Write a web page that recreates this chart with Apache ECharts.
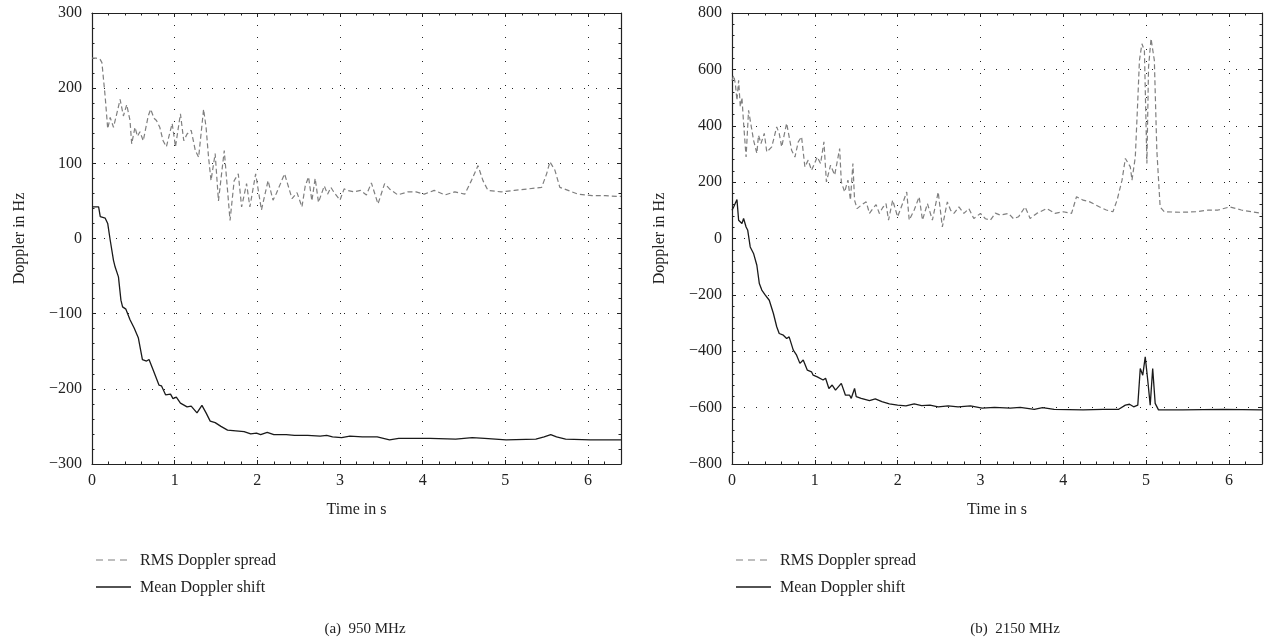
<!DOCTYPE html>
<html>
<head>
<meta charset="utf-8">
<script src="https://cdn.jsdelivr.net/npm/echarts@6/dist/echarts.min.js"></script>
<style>html,body{margin:0;padding:0;background:#fff}#c{width:1269px;height:641px}</style>
</head>
<body>
<div id="c"></div>
<script>
// ---- Data ----
const leftRmsT = [0,0.05,0.1,0.12,0.16,0.19,0.22,0.26,0.3,0.34,0.38,0.42,0.46,0.48,0.52,0.55,0.58,0.62,0.68,0.71,0.75,0.78,0.82,0.86,0.9,0.94,0.97,1.01,1.07,1.11,1.15,1.2,1.25,1.29,1.35,1.38,1.41,1.44,1.49,1.53,1.6,1.67,1.72,1.77,1.81,1.87,1.91,1.98,2.05,2.13,2.19,2.23,2.33,2.42,2.48,2.54,2.58,2.62,2.66,2.7,2.74,2.81,2.85,2.89,2.93,3.0,3.05,3.09,3.17,3.25,3.32,3.38,3.46,3.54,3.6,3.7,3.82,3.92,4.02,4.14,4.27,4.39,4.51,4.59,4.67,4.73,4.79,4.95,5.11,5.28,5.44,5.5,5.54,5.6,5.66,5.76,5.88,6.05,6.21,6.36,6.4];
const leftRmsV = [240,240,238,234,188,146,161,148,166,185,163,178,157,126,148,136,142,130,163,172,160,157,148,130,122,140,153,122,166,130,139,144,117,108,172,148,108,77,113,50,117,24,77,86,42,73,42,86,38,77,51,60,86,53,61,42,70,82,50,80,48,70,59,68,61,51,66,64,62,64,58,74,46,73,66,58,62,62,59,64,58,62,59,77,97,77,64,62,64,66,68,86,102,91,68,64,59,57,57,56,56];

const leftMeanT = [0,0.08,0.1,0.16,0.19,0.22,0.26,0.28,0.32,0.35,0.37,0.41,0.46,0.51,0.56,0.61,0.66,0.69,0.74,0.81,0.84,0.89,0.95,0.98,1.02,1.07,1.15,1.2,1.27,1.33,1.38,1.43,1.49,1.56,1.64,1.74,1.84,1.92,1.99,2.04,2.12,2.2,2.35,2.45,2.61,2.76,2.84,2.91,3.02,3.12,3.27,3.45,3.6,3.71,3.89,4.09,4.4,4.6,4.75,5.01,5.37,5.47,5.55,5.62,5.73,6.03,6.4];
const leftMeanV = [42,42,29,27,20,-2,-29,-38,-51,-82,-91,-94,-108,-119,-132,-161,-163,-161,-175,-195,-196,-208,-207,-213,-211,-219,-224,-223,-232,-222,-232,-243,-245,-250,-255,-256,-257,-260,-259,-261,-258,-261,-261,-262,-262,-263,-262,-264,-265,-263,-264,-264,-268,-266,-266,-266,-267,-265,-266,-268,-267,-264,-261,-264,-267,-268,-268];

const rightRmsT = [0,0.02,0.04,0.06,0.08,0.1,0.12,0.14,0.17,0.2,0.23,0.26,0.3,0.32,0.35,0.39,0.42,0.48,0.54,0.57,0.6,0.66,0.72,0.76,0.8,0.84,0.88,0.92,0.96,1.03,1.07,1.11,1.14,1.19,1.24,1.3,1.32,1.36,1.4,1.43,1.46,1.48,1.51,1.56,1.62,1.66,1.7,1.74,1.78,1.82,1.86,1.89,1.94,2.0,2.06,2.11,2.14,2.2,2.26,2.3,2.36,2.42,2.49,2.54,2.6,2.64,2.68,2.74,2.8,2.86,2.92,3.0,3.06,3.12,3.18,3.24,3.34,3.4,3.46,3.54,3.6,3.68,3.8,3.9,4.0,4.1,4.16,4.24,4.32,4.44,4.52,4.6,4.65,4.71,4.75,4.81,4.83,4.87,4.9,4.92,4.95,4.98,5.01,5.03,5.06,5.1,5.13,5.17,5.22,5.42,5.62,5.75,5.87,6.01,6.09,6.15,6.27,6.4];
const rightRmsV = [560,579,550,490,561,467,500,409,289,455,402,349,302,366,337,373,307,325,396,373,325,409,313,289,343,361,254,278,242,289,266,343,201,260,225,319,201,165,207,136,266,136,106,118,130,89,106,120,89,110,124,65,136,77,124,165,65,101,148,65,124,65,165,41,130,100,89,112,89,106,71,89,70,65,90,83,89,70,77,112,71,89,106,89,95,89,148,136,130,112,101,95,136,207,284,254,207,289,490,632,691,667,266,608,709,632,313,112,95,93,95,101,101,112,106,101,95,89];

const rightMeanT = [0,0.02,0.06,0.08,0.12,0.14,0.17,0.19,0.22,0.26,0.3,0.33,0.36,0.4,0.45,0.5,0.54,0.57,0.62,0.66,0.69,0.74,0.78,0.82,0.86,0.91,0.96,0.98,1.03,1.1,1.13,1.17,1.21,1.25,1.32,1.37,1.42,1.44,1.48,1.5,1.56,1.66,1.73,1.81,1.9,2.0,2.1,2.2,2.29,2.39,2.49,2.61,2.73,2.88,3.02,3.17,3.36,3.48,3.65,3.75,3.89,4.24,4.48,4.67,4.75,4.8,4.85,4.9,4.93,4.96,4.99,5.02,5.05,5.08,5.11,5.15,5.44,5.93,6.4];
const rightMeanV = [100,112,138,65,53,71,41,29,-30,-53,-95,-160,-183,-200,-219,-266,-313,-337,-343,-355,-349,-396,-414,-443,-431,-467,-473,-485,-491,-502,-496,-532,-520,-538,-514,-556,-556,-567,-532,-561,-567,-575,-569,-579,-587,-591,-594,-587,-593,-591,-597,-594,-597,-594,-602,-599,-602,-599,-606,-600,-606,-608,-606,-606,-591,-588,-597,-591,-461,-485,-420,-502,-591,-461,-585,-608,-608,-606,-608];

const xTicksMax = 6.4;
const seriesNames = ['RMS Doppler spread', 'Mean Doppler shift'];
const captions = ['(a)  950 MHz', '(b)  2150 MHz'];

// ---- Helpers ----
const zip = (t, v) => t.map((x, i) => [x, v[i]]);
const FONT = 'Liberation Serif';
const txt = { fontFamily: FONT, fontSize: 16, color: '#222' };
const RMS_COLOR = '#7f7f7f', MEAN_COLOR = '#1a1a1a', RMS_DASH = [5, 3];

function xAxes(gi) {
  const base = {
    type: 'value', gridIndex: gi, min: 0, max: xTicksMax, interval: 1,
    axisLine: { show: true, onZero: false, lineStyle: { color: '#222', width: 1.2 } },
    axisTick: { show: true, inside: true, length: 4, lineStyle: { color: '#222' } },
    minorTick: { show: true, splitNumber: 5, length: 2.5, lineStyle: { color: '#222' } },
  };
  return [
    Object.assign({}, base, {
      position: 'bottom',
      name: 'Time in s', nameLocation: 'middle', nameGap: 38,
      nameTextStyle: Object.assign({}, txt),
      axisLabel: Object.assign({ margin: 9, showMaxLabel: false }, txt),
      splitLine: { show: true, lineStyle: { color: '#222', type: [1, 11], width: 1 } },
    }),
    Object.assign({}, base, {
      position: 'top', axisLabel: { show: false }, splitLine: { show: false },
    }),
  ];
}
function yAxes(gi, min, max, interval) {
  const base = {
    type: 'value', gridIndex: gi, min, max, interval,
    axisLine: { show: true, onZero: false, lineStyle: { color: '#222', width: 1.2 } },
    axisTick: { show: true, inside: true, length: 4, lineStyle: { color: '#222' } },
    minorTick: { show: true, splitNumber: 5, length: 2.5, lineStyle: { color: '#222' } },
  };
  return [
    Object.assign({}, base, {
      position: 'left',
      name: 'Doppler in Hz', nameLocation: 'middle', nameGap: 64,
      nameTextStyle: Object.assign({}, txt),
      axisLabel: Object.assign({ margin: 10, formatter: v => (v < 0 ? '\u2212' + Math.abs(v) : '' + v) }, txt),
      splitLine: { show: true, lineStyle: { color: '#222', type: [1, 11], width: 1 } },
    }),
    Object.assign({}, base, {
      position: 'right', axisLabel: { show: false }, splitLine: { show: false },
    }),
  ];
}
function rms(gi, data) {
  return {
    name: seriesNames[0], type: 'line', xAxisIndex: gi * 2, yAxisIndex: gi * 2,
    data, showSymbol: false, symbol: 'none', animation: false,
    lineStyle: { color: RMS_COLOR, width: 1.2, type: RMS_DASH }, itemStyle: { color: RMS_COLOR },
  };
}
function mean(gi, data) {
  return {
    name: seriesNames[1], type: 'line', xAxisIndex: gi * 2, yAxisIndex: gi * 2,
    data, showSymbol: false, symbol: 'none', animation: false,
    lineStyle: { color: MEAN_COLOR, width: 1.3 }, itemStyle: { color: MEAN_COLOR },
  };
}
// Legend drawn as graphic keys (line samples + labels)
function legendKeys(x0) {
  const y1 = 560, y2 = 587;
  return [
    { type: 'line', shape: { x1: x0 + 4, y1: y1, x2: x0 + 39, y2: y1 },
      style: { stroke: RMS_COLOR, lineWidth: 1.2, lineDash: [7, 5] } },
    { type: 'text', x: x0 + 48, y: y1 + 1, style: { text: seriesNames[0], fill: '#222',
      font: '16px "' + FONT + '"', textVerticalAlign: 'middle' } },
    { type: 'line', shape: { x1: x0 + 4, y1: y2, x2: x0 + 39, y2: y2 },
      style: { stroke: MEAN_COLOR, lineWidth: 1.3 } },
    { type: 'text', x: x0 + 48, y: y2 + 1, style: { text: seriesNames[1], fill: '#222',
      font: '16px "' + FONT + '"', textVerticalAlign: 'middle' } },
  ];
}

const chart = echarts.init(document.getElementById('c'), null, { renderer: 'canvas' });
chart.setOption({
  backgroundColor: '#fff',
  animation: false,
  grid: [
    { left: 92, top: 13, width: 529, height: 451 },
    { left: 732, top: 13, width: 530, height: 451 },
  ],
  xAxis: [...xAxes(0), ...xAxes(1)],
  yAxis: [...yAxes(0, -300, 300, 100), ...yAxes(1, -800, 800, 200)],
  graphic: [...legendKeys(92), ...legendKeys(732)],
  title: [
    { text: captions[0], left: 360, top: 617, textAlign: 'center',
      textStyle: Object.assign({}, txt, { fontWeight: 'normal', fontSize: 15 }) },
    { text: captions[1], left: 1010, top: 617, textAlign: 'center',
      textStyle: Object.assign({}, txt, { fontWeight: 'normal', fontSize: 15 }) },
  ],
  series: [
    rms(0, zip(leftRmsT, leftRmsV)),
    mean(0, zip(leftMeanT, leftMeanV)),
    rms(1, zip(rightRmsT, rightRmsV)),
    mean(1, zip(rightMeanT, rightMeanV)),
  ],
});
</script>
</body>
</html>
